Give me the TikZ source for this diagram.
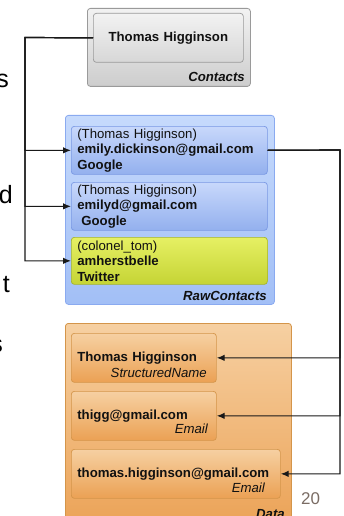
\documentclass[tikz,border=0pt]{standalone}
\usepackage{fontspec}
\setmainfont{Liberation Sans}
\usetikzlibrary{arrows.meta}

\definecolor{texto}{HTML}{111111}
\definecolor{grisarriba}{HTML}{F2F2F2}
\definecolor{grisabajo}{HTML}{CDCDCD}
\definecolor{grisborde}{HTML}{9A9A9A}
\definecolor{azularriba}{HTML}{C6DAFC}
\definecolor{azulabajo}{HTML}{A2BFF6}
\definecolor{azulborde}{HTML}{8AAAF0}
\definecolor{itemarriba}{HTML}{C8D8FB}
\definecolor{itemabajo}{HTML}{93B0EE}
\definecolor{itemborde}{HTML}{7A99E4}
\definecolor{limaarriba}{HTML}{E6F064}
\definecolor{limaabajo}{HTML}{C5D435}
\definecolor{limaborde}{HTML}{A4B42C}
\definecolor{naranjaarriba}{HTML}{F6D0A2}
\definecolor{naranjaabajo}{HTML}{EBA154}
\definecolor{naranjaborde}{HTML}{D4954A}
\definecolor{numero}{HTML}{7A6C64}

\tikzset{
  grupo/.style={draw, rounded corners=3pt, anchor=north west, inner sep=0pt, line width=0.8pt},
  item/.style={draw, rounded corners=3pt, anchor=north west, inner xsep=6pt, inner ysep=0pt,
    align=left, text=texto, line width=0.7pt, font=\fontsize{13.2}{15.5}\selectfont},
  rawitem/.style={item, draw=itemborde, top color=itemarriba, bottom color=itemabajo,
    text width=184pt, minimum height=48pt},
  twitem/.style={item, draw=limaborde, top color=limaarriba, bottom color=limaabajo,
    text width=184pt, minimum height=47pt},
  dataitem/.style={item, draw=naranjaborde, top color=naranjaarriba, bottom color=naranjaabajo,
    text width=133pt, minimum height=49pt},
  etiqueta/.style={inner sep=0pt, anchor=base east, text=texto,
    font=\fontsize{13.2}{15}\selectfont\bfseries\itshape},
  tipo/.style={inner sep=0pt, anchor=base east, text=texto,
    font=\fontsize{13.2}{15}\selectfont\itshape},
  letra/.style={inner sep=0pt, anchor=base east, text=black, font=\fontsize{25}{30}\selectfont},
  conexion/.style={draw=black!90, line width=1.2pt, -{Latex[length=8pt,width=6.5pt]}}
}

\begin{document}
\begin{tikzpicture}[x=1pt, y=-1pt]
    \useasboundingbox (0,0) rectangle (343,516);

    % Restos del texto de la diapositiva
    \node (letra1) [letra] at (9,88) {s};
    \node (letra2) [letra] at (13,203) {d};
    \node (letra3) [letra] at (10,292) {t};
    \node (letra4) [letra] at (3,352) {s};

    % Contacto agregado
    \node (contactsbox) [grupo, draw=grisborde, top color=grisarriba, bottom color=grisabajo,
      minimum width=163pt, minimum height=78pt] at (87,8) {};
    \node (contact) [item, draw=grisborde, top color=grisarriba, bottom color=grisabajo!80,
      text width=138pt, align=center, minimum height=49pt, font=\fontsize{13.2}{15.5}\selectfont\bfseries]
      at (93,13) {Thomas Higginson};
    \node (contactslabel) [etiqueta] at (245,82) {Contacts};

    % Contactos en bruto
    \node (rawbox) [grupo, draw=azulborde, top color=azularriba, bottom color=azulabajo,
      minimum width=209pt, minimum height=189pt] at (65,115) {};
    \node (raw1) [rawitem] at (71,126) {(Thomas Higginson)\\ \textbf{emily.dickinson@gmail.com}\\ \textbf{Google}};
    \node (raw2) [rawitem] at (71,182) {(Thomas Higginson)\\ \textbf{emilyd@gmail.com}\\ \hspace*{4pt}\textbf{Google}};
    \node (raw3) [twitem] at (71,237) {(colonel\_tom)\\ \textbf{amherstbelle}\\ \textbf{Twitter}};
    \node (rawlabel) [etiqueta] at (267,300) {RawContacts};

    % Datos
    \node (databox) [grupo, draw=naranjaborde, top color=naranjaarriba, bottom color=naranjaabajo,
      minimum width=226pt, minimum height=210pt] at (65,323) {};
    \node (data1) [dataitem] at (71,333) {\textbf{Thomas Higginson}};
    \node (data2) [dataitem] at (71,391) {\textbf{thigg@gmail.com}};
    \node (data3) [dataitem, text width=197pt] at (71,449) {\textbf{thomas.higginson@gmail.com}};
    \node (tipo1) [tipo] at (207,377) {StructuredName};
    \node (tipo2) [tipo] at (208,433) {Email};
    \node (tipo3) [tipo] at (265,492) {Email};
    \node (datalabel) [etiqueta] at (285,518) {Data};

    % Numero de pagina
    \node (pagina) [inner sep=0pt, anchor=base west, text=numero, font=\fontsize{17}{20}\selectfont]
      at (301,504) {20};

    % Conectores
    \coordinate (izq) at (25,37.5);
    \coordinate (der) at (340,150);
    \draw[conexion] (contact.west) -- (izq) |- (raw1.west);
    \draw[conexion] (contact.west) -- (izq) |- (raw2.west);
    \draw[conexion] (contact.west) -- (izq) |- (raw3.west);
    \draw[conexion] (raw1.east) -- (der) |- (data1.east);
    \draw[conexion] (raw1.east) -- (der) |- (data2.east);
    \draw[conexion] (raw1.east) -- (der) |- (data3.east);
\end{tikzpicture}
\end{document}
